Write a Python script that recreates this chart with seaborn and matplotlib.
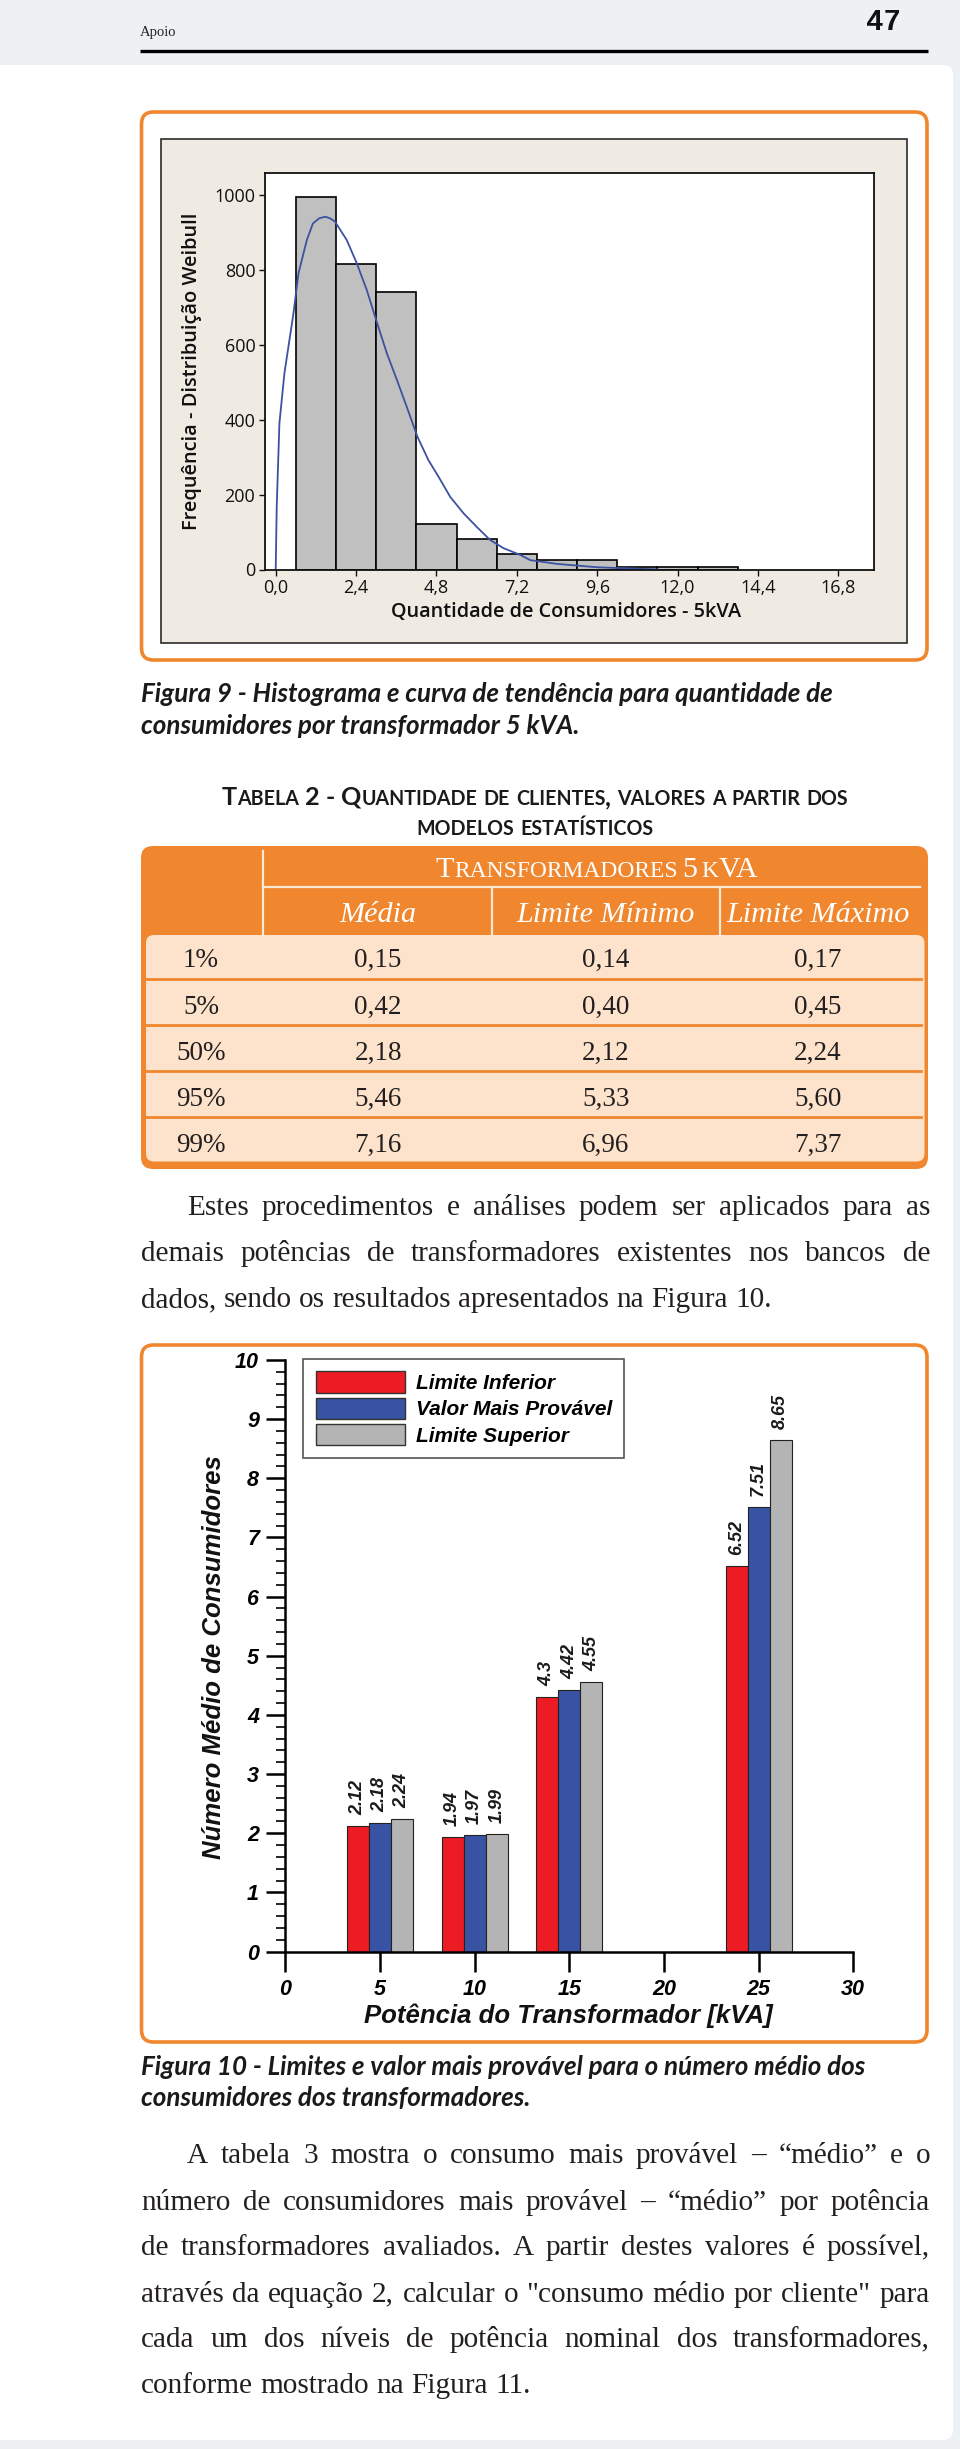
import numpy as np
import pandas as pd
import matplotlib
matplotlib.use("Agg")
import matplotlib.pyplot as plt
import seaborn as sns
from matplotlib.patches import FancyBboxPatch, Rectangle
from matplotlib.ticker import MultipleLocator

# ---------------- data ----------------
hist_edges = [0.6, 1.8, 3.0, 4.2, 5.4, 6.6, 7.8, 9.0, 10.2, 11.4, 12.6, 13.8]
hist_counts = [994, 815, 740, 122, 82, 41, 25, 25, 6, 7, 7]
weib_x = [0.0, 0.03, 0.11, 0.26, 0.53, 0.68, 0.93, 1.11, 1.3, 1.48, 1.62, 1.77, 2.12, 2.42,
          2.72, 3.0, 3.32, 3.62, 3.91, 4.23, 4.56, 4.86, 5.21, 5.61, 6.0, 6.4,
          6.8, 7.3, 7.6, 8.4, 9.6, 10.8, 11.4]
weib_y = [0, 168, 390, 524, 684, 791, 880, 924, 938, 942, 938, 929, 880, 818,
          746, 666, 577, 506, 435, 355, 292, 248, 194, 150, 114, 79,
          57, 39, 25, 15, 6, 2, 0.5]
hist_xticks = [0.0, 2.4, 4.8, 7.2, 9.6, 12.0, 14.4, 16.8]
hist_xticklabels = ["0,0", "2,4", "4,8", "7,2", "9,6", "12,0", "14,4", "16,8"]
hist_yticks = [0, 200, 400, 600, 800, 1000]

tab_rows = ["1%", "5%", "50%", "95%", "99%"]
tab_cols = ["Média", "Limite Mínimo", "Limite Máximo"]
tab_media = [0.15, 0.42, 2.18, 5.46, 7.16]
tab_min = [0.14, 0.40, 2.12, 5.33, 6.96]
tab_max = [0.17, 0.45, 2.24, 5.60, 7.37]

kva = [5, 10, 15, 25]
lim_inf = [2.12, 1.94, 4.3, 6.52]
val_prov = [2.18, 1.97, 4.42, 7.51]
lim_sup = [2.24, 1.99, 4.55, 8.65]
series_names = ["Limite Inferior", "Valor Mais Provável", "Limite Superior"]
bar_colors = ["#ed1c24", "#3953a4", "#b4b4b4"]

cap9 = ["Figura 9 - Histograma e curva de tendência para quantidade de",
        "consumidores por transformador 5 kVA."]
cap10 = ["Figura 10 - Limites e valor mais provável para o número médio dos",
         "consumidores dos transformadores."]
tab_title = ["Tabela 2 - Quantidade de clientes, valores a partir dos",
             "modelos estatísticos"]
para1 = ["Estes procedimentos e análises podem ser aplicados para as",
         "demais potências de transformadores existentes nos bancos de",
         "dados, sendo os resultados apresentados na Figura 10."]
para2 = ["A tabela 3 mostra o consumo mais provável – “médio” e o",
         "número de consumidores mais provável – “médio” por potência",
         "de transformadores avaliados. A partir destes valores é possível,",
         "através da equação 2, calcular o \"consumo médio por cliente\" para",
         "cada um dos níveis de potência nominal dos transformadores,",
         "conforme mostrado na Figura 11."]

ORANGE = "#f0872e"
SERIF = "Liberation Serif"
SANS = "Liberation Sans"

# ---------------- figure / page ----------------
W, H = 960, 2449
fig = plt.figure(figsize=(W / 100, H / 100), dpi=100, facecolor="#edf1f4")
bg = fig.add_axes([0, 0, 1, 1], zorder=0)
bg.set_xlim(0, W)
bg.set_ylim(H, 0)
bg.axis("off")
R = fig.canvas.get_renderer()


def tw(s, **kw):
    t = bg.text(0, 0, s, **kw)
    w = t.get_window_extent(R).width
    t.remove()
    return w


def fit(s, target, **kw):
    k = dict(kw)
    k["fontsize"] = 20
    return 20 * target / tw(s, **k)


def box(x0, y0, x1, y1, r, **kw):
    p = FancyBboxPatch((x0, y0), x1 - x0, y1 - y0,
                       boxstyle=f"round,pad=0,rounding_size={r}", **kw)
    bg.add_patch(p)
    return p


# page
box(-30, 65, 953, 2440, 10, fc="white", ec="none")
# header
bg.text(139.5, 36, "Apoio", family=SERIF, fontsize=10.5, va="baseline", color="#222")
bg.text(901, 29.5, "47", family="Liberation Mono", fontweight="bold", fontsize=21,
        ha="right", va="baseline", color="#111")
bg.plot([139.5, 928], [50.7, 50.7], color="black", lw=2.4, solid_capstyle="butt")

# ---------------- Figure 9 ----------------
box(141.5, 112, 927, 660, 12, fc="white", ec=ORANGE, lw=2.6)
bg.add_patch(Rectangle((160.7, 139.3), 907 - 160.7, 643 - 139.3,
                       fc="#efebe2", ec="#2b2b2b", lw=1.2))

ax1 = fig.add_axes([265 / W, 1 - 569.5 / H, 608.5 / W, 396.2 / H], zorder=2)
ax1.set_facecolor("white")
centers = (np.array(hist_edges[:-1]) + np.array(hist_edges[1:])) / 2
sns.histplot(x=centers, weights=hist_counts, bins=hist_edges, color="#c0c0c0",
             edgecolor="black", linewidth=1.2, alpha=1, ax=ax1)
sns.lineplot(x=weib_x, y=weib_y, color="#3c52a0", linewidth=1.3, ax=ax1)
ax1.set_xlim(-0.32, 17.85)
ax1.set_ylim(0, 1058)
ax1.set_xticks(hist_xticks)
ax1.set_xticklabels(hist_xticklabels)
ax1.set_yticks(hist_yticks)
ax1.set_yticklabels([str(v) for v in hist_yticks])
ax1.tick_params(direction="out", length=4, width=1, pad=3, labelsize=13, colors="#111")
for lbl in ax1.get_xticklabels() + ax1.get_yticklabels():
    lbl.set_family("Open Sans")
for s in ax1.spines.values():
    s.set_linewidth(1.3)
    s.set_color("#111")
ylab9 = "Frequência - Distribuição Weibull"
xlab9 = "Quantidade de Consumidores - 5kVA"
fs_y9 = fit(ylab9, 318, family="Open Sans", fontweight="semibold")
fs_x9 = fit(xlab9, 349, family="Open Sans", fontweight="semibold")
ax1.set_ylabel(ylab9, family="Open Sans", fontweight="semibold", fontsize=fs_y9, color="#111")
ax1.set_xlabel(xlab9, family="Open Sans", fontweight="semibold", fontsize=fs_x9, color="#111")
ax1.yaxis.set_label_coords((191.7 - 265) / 608.5, (569.5 - 371) / 396.2)
ax1.yaxis.label.set_verticalalignment("center")
ax1.xaxis.set_label_coords((566.5 - 265) / 608.5, (569.5 - 611.5) / 396.2)
ax1.xaxis.label.set_verticalalignment("center")

# caption helper
CAPKW = dict(family="Lato", fontweight="bold", fontstyle="italic", color="#1a1a1a")
fs_cap = (fit(cap9[0], 689, **CAPKW) + fit(cap10[0], 725, **CAPKW)) / 2
for line, yb in zip(cap9, [701.5, 733.5]):
    bg.text(141, yb, line, fontsize=fs_cap, va="baseline", **CAPKW)


# ---------------- Table 2 ----------------
def sc_runs(word, big, ratio):
    out = []
    for ch in word:
        item = (ch.upper(), big * ratio) if ch.islower() else (ch, big)
        if out and out[-1][1] == item[1]:
            out[-1] = (out[-1][0] + item[0], item[1])
        else:
            out.append(item)
    return out


def smallcaps(xc, yb, s, big, ratio, draw=True, **kw):
    words = s.split(" ")
    sp = tw("A A", fontsize=big, **kw) - tw("AA", fontsize=big, **kw)
    wr = [sc_runs(w, big, ratio) for w in words]
    ws = [[tw(t, fontsize=f, **kw) for t, f in r] for r in wr]
    total = sum(sum(w) for w in ws) + sp * (len(words) - 1)
    if draw:
        x = xc - total / 2
        for r, w in zip(wr, ws):
            for (t, f), wd in zip(r, w):
                bg.text(x, yb, t, fontsize=f, va="baseline", ha="left", **kw)
                x += wd
            x += sp
    return total


TKW = dict(family="Lato", fontweight="bold", color="#1a1a1a")
tot = smallcaps(0, 0, tab_title[0], 20, 0.78, draw=False, **TKW)
big_t = 20 * 623.5 / tot
smallcaps(535, 805, tab_title[0], big_t, 0.78, **TKW)
smallcaps(535, 835, tab_title[1], big_t, 0.78, **TKW)

box(141, 846, 928, 1169, 12, fc=ORANGE, ec="none")
box(146, 935, 924.5, 1161.5, 8, fc="#fde3cb", ec="none")
LC = "#fde8d6"
bg.plot([263.4, 263.4], [851, 935], color=LC, lw=1.6)
bg.plot([263.4, 920], [887.3, 887.3], color=LC, lw=1.6)
for xv in [491.5, 720]:
    bg.plot([xv, xv], [887.3, 935], color=LC, lw=1.6)
for yv in [979, 1025, 1071, 1117]:
    bg.plot([146, 920.5], [yv, yv], color=ORANGE, lw=2.0)

HKW = dict(family=SERIF, color="white")
tot = smallcaps(0, 0, "Transformadores 5 kVA", 20, 0.78, draw=False, **HKW)
smallcaps(597, 877, "Transformadores 5 kVA", 20 * 322 / tot, 0.78, **HKW)
fs_h2 = fit(tab_cols[1], 178, family=SERIF, fontstyle="italic")
col_x = [201, 378, 606, 818]
for cx, name in zip(col_x[1:], tab_cols):
    bg.text(cx, 921.5, name, family=SERIF, fontstyle="italic", color="white",
            fontsize=fs_h2, ha="center", va="baseline")
row_base = [967, 1013.5, 1060, 1106, 1152]
for i, yb in enumerate(row_base):
    vals = [tab_rows[i]] + [f"{v:.2f}".replace(".", ",") for v in
                            (tab_media[i], tab_min[i], tab_max[i])]
    for cx, v in zip(col_x, vals):
        bg.text(cx, yb, v, family=SERIF, fontsize=19.5, color="#231f20",
                ha="center", va="baseline")


# ---------------- paragraphs ----------------
PKW = dict(family=SERIF, color="#231f20")


def para_size(lines, x0, x1, indent, last_w):
    sizes = [fit(lines[-1], last_w, **PKW)]
    for i, line in enumerate(lines[:-1]):
        sizes.append(fit(line, 0.985 * (x1 - x0 - (indent if i == 0 else 0)), **PKW))
    return min(sizes)


def paragraph(lines, x0, x1, baselines, fs, indent):
    sp = tw("a a", fontsize=fs, **PKW) - tw("aa", fontsize=fs, **PKW)
    for i, (line, yb) in enumerate(zip(lines, baselines)):
        words = line.split(" ")
        xs = x0 + (indent if i == 0 else 0)
        widths = [tw(w, fontsize=fs, **PKW) for w in words]
        if i < len(lines) - 1 and len(words) > 1:
            gap = (x1 - xs - sum(widths)) / (len(words) - 1)
        else:
            gap = sp
        x = xs
        for w, wd in zip(words, widths):
            bg.text(x, yb, w, fontsize=fs, va="baseline", ha="left", **PKW)
            x += wd + gap


fs_p = min(para_size(para1, 141, 930, 46, 634), para_size(para2, 141, 930, 46, 395))
paragraph(para1, 141, 930, [1215, 1261, 1307], fs_p, 46)

# ---------------- Figure 10 ----------------
box(141.5, 1345, 927, 2042, 12, fc="white", ec=ORANGE, lw=2.6)
AX2 = (285.4, 853.3, 1360, 1951.6)
ax2 = fig.add_axes([AX2[0] / W, 1 - AX2[3] / H, (AX2[1] - AX2[0]) / W, (AX2[3] - AX2[2]) / H],
                   zorder=2)
ax2.set_facecolor("none")
df = pd.DataFrame({"kva": kva * 3,
                   "valor": lim_inf + val_prov + lim_sup,
                   "serie": np.repeat(series_names, len(kva))})
sns.barplot(data=df, x="kva", y="valor", hue="serie", hue_order=series_names,
            native_scale=True, palette=bar_colors, saturation=1, width=0.7,
            errorbar=None, edgecolor="#222222", linewidth=0.8, ax=ax2)
ax2.set_xlim(0, 30)
ax2.set_ylim(0, 10)
ax2.set_xticks(range(0, 31, 5))
ax2.set_yticks(range(0, 11))
ax2.yaxis.set_minor_locator(MultipleLocator(0.2))
ax2.spines["top"].set_visible(False)
ax2.spines["right"].set_visible(False)
for s in ("left", "bottom"):
    ax2.spines[s].set_linewidth(1.8)
ax2.tick_params(axis="y", which="major", direction="out", length=14, width=1.8, pad=5,
                labelsize=15.5)
ax2.tick_params(axis="y", which="minor", direction="out", length=6.5, width=1.2)
ax2.tick_params(axis="x", which="major", direction="out", length=14.5, width=1.8, pad=5,
                labelsize=15.5)
for lbl in ax2.get_xticklabels() + ax2.get_yticklabels():
    lbl.set_family(SANS)
    lbl.set_fontweight("bold")
    lbl.set_fontstyle("italic")
for cont in ax2.containers:
    ax2.bar_label(cont, fmt="%g", rotation=90, padding=8, fontsize=13,
                  fontweight="bold", fontstyle="italic", family=SANS, color="#1a1a1a")
LKW = dict(family=SANS, fontweight="bold", fontstyle="italic")
ax2.set_xlabel("Potência do Transformador [kVA]", fontsize=18.5, color="#111", **LKW)
ax2.set_ylabel("Número Médio de Consumidores", fontsize=18.5, color="#111", **LKW)
ax2.xaxis.set_label_coords((568.6 - AX2[0]) / (AX2[1] - AX2[0]),
                           (AX2[3] - 2016) / (AX2[3] - AX2[2]))
ax2.xaxis.label.set_verticalalignment("center")
ax2.yaxis.set_label_coords((214 - AX2[0]) / (AX2[1] - AX2[0]),
                           (AX2[3] - 1657) / (AX2[3] - AX2[2]))
ax2.yaxis.label.set_verticalalignment("center")
h, l = ax2.get_legend_handles_labels()
leg = ax2.legend(h, l, loc="upper left", bbox_to_anchor=(0.031, 1.002), frameon=True,
                 fancybox=False, edgecolor="#555555", framealpha=1,
                 prop=dict(family=SANS, weight="bold", style="italic", size=15),
                 handlelength=4.3, handleheight=1.2, handletextpad=0.5,
                 labelspacing=0.22, borderpad=0.6, borderaxespad=0)
leg.get_frame().set_linewidth(1.2)
for hd in leg.legend_handles:
    hd.set_edgecolor("#333333")
    hd.set_linewidth(1.0)

for line, yb in zip(cap10, [2075, 2106]):
    bg.text(141, yb, line, fontsize=fs_cap, va="baseline", **CAPKW)

paragraph(para2, 141, 930, [2163, 2209.5, 2255, 2301.5, 2347, 2393], fs_p, 46)

fig.savefig("out.png", dpi=100, facecolor=fig.get_facecolor())
